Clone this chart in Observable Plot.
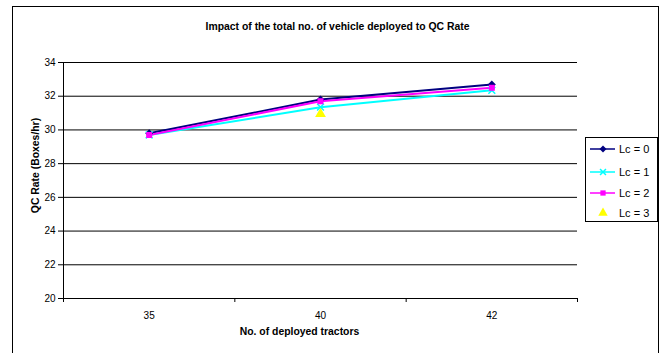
<!DOCTYPE html>
<html>
<head>
<meta charset="utf-8">
<script src="https://cdn.jsdelivr.net/npm/d3@7"></script>
<script src="https://cdn.jsdelivr.net/npm/@observablehq/plot@0.6"></script>
<style>
  html, body { margin: 0; padding: 0; background: #fff; }
  #wrap { position: relative; width: 666px; height: 353px; overflow: hidden; font-family: "Liberation Sans", Arial, sans-serif; }
  #frame { position: absolute; left: 12px; top: 6px; width: 647px; height: 360px; border: 1.5px solid #000; box-sizing: border-box; pointer-events: none; }
  #legend { position: absolute; left: 585px; top: 137px; }
</style>
</head>
<body>
<div id="wrap">
  <div id="chart"></div>
  <div id="frame"></div>
  <div id="legend"></div>
</div>
<script>
// Number of deployed tractors (category axis)
const categories = ["35", "40", "42"];

// QC rate (boxes/hr) per Lc setting; Lc = 3 was only measured at 40 tractors
const lc0 = [29.8, 31.8, 32.7];
const lc1 = [29.7, 31.35, 32.35];
const lc2 = [29.7, 31.7, 32.5];
const lc3 = [null, 30.95, null];

const seriesNames = ["Lc = 0", "Lc = 1", "Lc = 2", "Lc = 3"];
const seriesValues = [lc0, lc1, lc2, lc3];
const yTicks = [20, 22, 24, 26, 28, 30, 32, 34];

// series styling: colour, marker symbol, whether joined by a line
const styles = [
  { color: "#000080", symbol: "diamond2", r: 3.6, line: true },
  { color: "#00FFFF", symbol: "times", r: 3.2, line: true },
  { color: "#FF00FF", symbol: "square", r: 3.4, line: true },
  { color: "#FFFF00", symbol: "triangle", r: 4, line: false }
];

const rows = seriesNames.flatMap((name, s) =>
  seriesValues[s].map((v, i) => ({ series: name, s, i, value: v }))
).filter(d => d.value != null);

const marks = [
  Plot.ruleY(yTicks, { stroke: "#000", strokeWidth: 1 }),
  Plot.ruleX([-0.5], { y1: 20, y2: 34, stroke: "#000" }),
  Plot.axisY({ ticks: yTicks, tickSize: 5, tickPadding: 3, label: null, fontSize: 10 }),
  Plot.axisX({ ticks: [-0.5, 0.5, 1.5, 2.5], tickSize: 4, tickFormat: () => "", label: null }),
  Plot.axisX({ ticks: [0, 1, 2], tickSize: 0, tickPadding: 13, tickFormat: i => categories[i], label: null, fontSize: 10 })
];

styles.forEach((st, s) => {
  const data = rows.filter(d => d.s === s);
  if (st.line) {
    marks.push(Plot.line(data, { x: "i", y: "value", stroke: st.color, strokeWidth: 2 }));
  }
});
styles.forEach((st, s) => {
  const data = rows.filter(d => d.s === s);
  const filled = st.symbol !== "times";
  marks.push(Plot.dot(data, {
    x: "i", y: "value", symbol: () => st.symbol, r: st.r,
    fill: filled ? st.color : "none",
    stroke: filled ? "none" : st.color,
    strokeWidth: filled ? 0 : 1.5
  }));
});

marks.push(
  Plot.text(["Impact of the total no. of vehicle deployed to QC Rate"], {
    frameAnchor: "top", dy: -40, dx: 17, fontWeight: "bold", fontSize: 10.4
  }),
  Plot.text(["QC Rate (Boxes/hr)"], {
    frameAnchor: "left", textAnchor: "middle", rotate: -90, dx: -28, dy: -15, fontWeight: "bold", fontSize: 10.4
  }),
  Plot.text(["No. of deployed tractors"], {
    frameAnchor: "bottom", dy: 36, dx: -21, fontWeight: "bold", fontSize: 10.4
  })
);

const chart = Plot.plot({
  width: 666,
  height: 353,
  marginLeft: 63,
  marginRight: 89,
  marginTop: 62,
  marginBottom: 55,
  style: { fontFamily: "Liberation Sans, Arial, sans-serif", fontSize: "10px", color: "#000", background: "#fff" },
  x: { type: "linear", domain: [-0.5, 2.5], axis: null },
  y: { domain: [20, 34], axis: null },
  symbol: { type: "identity" },
  marks
});
document.getElementById("chart").appendChild(chart);

// legend box
const lw = 73, lh = 85;
const leg = d3.select("#legend").append("svg").attr("width", lw).attr("height", lh)
  .style("font-family", "Liberation Sans, Arial, sans-serif");
leg.append("rect").attr("x", 0.5).attr("y", 0.5).attr("width", lw - 1).attr("height", lh - 1)
  .attr("fill", "#fff").attr("stroke", "#000");
const rowY = [12, 35, 56, 76];
seriesNames.forEach((name, s) => {
  const st = styles[s];
  const g = leg.append("g").attr("transform", `translate(0,${rowY[s]})`);
  if (st.line) g.append("line").attr("x1", 5).attr("x2", 30).attr("y1", 0).attr("y2", 0)
    .attr("stroke", st.color).attr("stroke-width", 1.5);
  const sym = d3.symbol().type({
    diamond2: d3.symbolDiamond2, times: d3.symbolTimes, square: d3.symbolSquare, triangle: d3.symbolTriangle
  }[st.symbol]).size(st.r * st.r * 2.4)();
  const filled = st.symbol !== "times";
  g.append("path").attr("d", sym).attr("transform", "translate(18,0)")
    .attr("fill", filled ? st.color : "none").attr("stroke", filled ? "none" : st.color).attr("stroke-width", 1.5);
  g.append("text").attr("x", 34).attr("y", 4).attr("font-size", 11).text(name);
});
</script>
</body>
</html>
